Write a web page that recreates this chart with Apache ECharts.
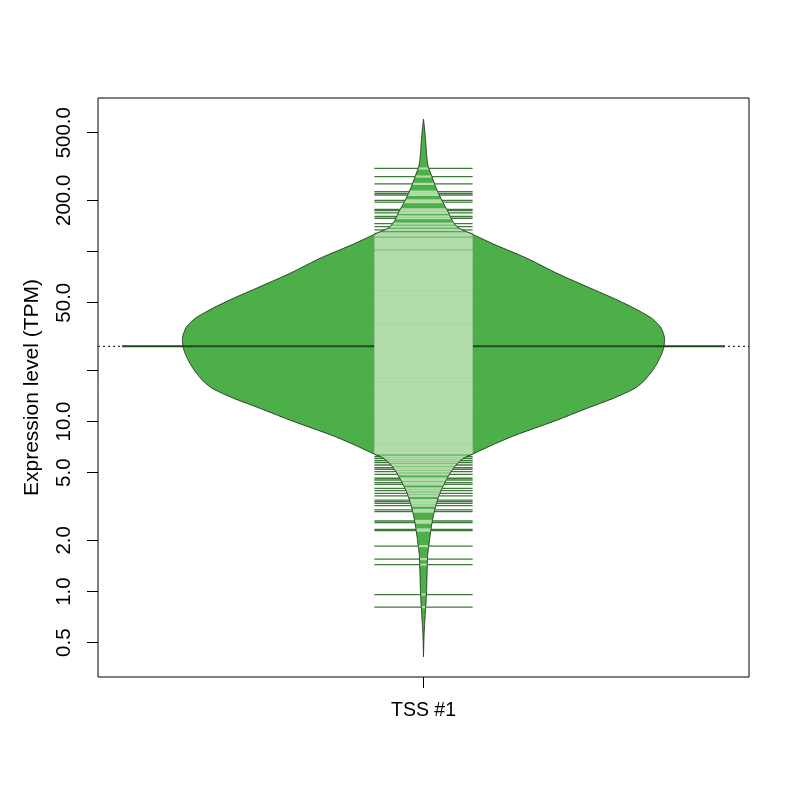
<!DOCTYPE html>
<html><head><meta charset="utf-8">
<script src="https://cdn.jsdelivr.net/npm/echarts@6/dist/echarts.min.js"></script>
<style>html,body{margin:0;padding:0;background:#fff}#chart{width:800px;height:800px}</style>
</head><body><div id="chart"></div>
<script>
// ---- data ----
const categories = ['TSS #1'];
const beanAverage = 27.7; // TPM (geometric mean, bean average line)
// bean density outline: TPM value and relative density (1 = widest)
const beanValues = [0.4136, 0.540, 0.618, 0.778, 0.98, 1.25, 1.60, 2.01, 2.52, 3.155, 3.87, 4.43, 5.31, 6.08, 6.41, 8.03, 10.2, 11.96, 14.0, 16.03, 19.2, 23.0, 27.55, 30.2, 34.5, 39.6, 44.3, 51.9, 62.1, 74.4, 91.2, 110.7, 126.8, 140.0, 175.5, 220, 275.6, 330, 370, 435, 519, 600];
const beanDensity = [0, 0.002, 0.0041, 0.0083, 0.0124, 0.0145, 0.017, 0.025, 0.035, 0.05, 0.071, 0.091, 0.124, 0.166, 0.201, 0.355, 0.554, 0.678, 0.803, 0.886, 0.941, 0.976, 0.997, 1.0, 0.99, 0.955, 0.9, 0.803, 0.678, 0.554, 0.429, 0.29, 0.201, 0.139, 0.098, 0.062, 0.035, 0.017, 0.013, 0.0095, 0.005, 0];
// individual observations (bean lines), TPM
const lowObs = [0.81, 0.96, 1.44, 1.55, 1.85, 2.28, 2.32, 2.54, 2.60, 2.95, 3.02, 3.20, 3.30, 3.38, 3.45, 3.65, 3.78, 3.92, 4.04, 4.27, 4.37, 4.53, 4.64, 4.89, 5.07, 5.24, 5.35, 5.55, 5.74, 5.90, 6.08, 6.23];
const midObs = [6.5, 6.6, 6.7, 6.8, 6.9, 7.0, 7.1, 7.25, 7.4, 7.55, 7.7, 7.85, 8.0, 8.15, 8.3, 8.45, 8.6, 8.8, 8.95, 9.1, 9.3, 9.5, 9.7, 9.9, 10.1, 10.3, 10.5, 10.7, 10.9, 11.1, 11.3, 11.5, 11.75, 12.0, 12.2, 12.45, 12.7, 12.95, 13.2, 13.5, 13.75, 14.0, 14.3, 14.6, 14.9, 15.2, 15.5, 15.8, 16.1, 16.4, 16.7, 17.0, 17.4, 17.7, 18.1, 18.4, 18.8, 19.2, 19.55, 19.9, 20.3, 20.7, 21.1, 21.5, 21.9, 22.3, 22.8, 23.2, 23.7, 24.1, 24.6, 25.1, 25.6, 26.1, 26.6, 27.1, 27.6, 28.2, 28.7, 29.3, 29.8, 30.4, 31.0, 31.6, 32.2, 32.8, 33.5, 34.1, 34.8, 35.5, 36.1, 36.8, 37.6, 38.3, 39.0, 39.8, 40.6, 41.4, 42.2, 43.0, 43.8, 44.7, 45.5, 46.4, 47.3, 48.2, 49.2, 50.1, 51.1, 52.1, 53.1, 54.1, 55.2, 56.2, 57.3, 58.4, 59.6, 60.7, 61.9, 63.1, 64.3, 65.6, 66.8, 68.1, 69.5, 70.8, 71.8, 73.9, 75.0, 76.5, 77.9, 79.5, 81.0, 82.6, 84.2, 85.5, 88.2, 89.2, 90.9, 92.7, 94.5, 96.3, 98.2, 100.2, 103.9, 106, 108, 110, 112, 114.5, 116.8, 119.2, 124.2, 126];
const highObs = [128, 134, 140, 146, 157, 161, 169, 174, 177, 195, 200, 215, 220, 225, 250, 276, 308];
const yTickValues = [0.5, 1, 2, 5, 10, 20, 50, 100, 200, 500];
const yLabelValues = [0.5, 1, 2, 5, 10, 50, 200, 500];
const yRange = [0.3143, 800];

// ---- style ----
const FONT = 'Liberation Sans, Arial, Helvetica, sans-serif';
const beanFill = '#4DAF4A';
const beanBorder = '#24401F';
const innerLine = '#B2DCAA';
const outerLine = '#3D7A3A';
const avgLine = '#1E4A1D';
const beanMaxWidth = 0.8;   // in x units
const lineLength = 0.163;   // in x units

const allObs = lowObs.concat(midObs, highObs);
const lg = Math.log10;

// monotone cubic (Fritsch-Carlson) interpolation of density over log10(value), for a smooth outline
const LX = beanValues.map(lg);
const LY = beanDensity;
const n = LX.length;
const slopes = [];
for (let i = 0; i < n - 1; i++) slopes.push((LY[i + 1] - LY[i]) / (LX[i + 1] - LX[i]));
const tang = new Array(n);
tang[0] = slopes[0]; tang[n - 1] = slopes[n - 2];
for (let i = 1; i < n - 1; i++) {
  if (slopes[i - 1] * slopes[i] <= 0) tang[i] = 0;
  else {
    const h0 = LX[i] - LX[i - 1], h1 = LX[i + 1] - LX[i];
    const w1 = 2 * h1 + h0, w2 = h1 + 2 * h0;
    tang[i] = (w1 + w2) / (w1 / slopes[i - 1] + w2 / slopes[i]);
  }
}
function densityAtLog(x) {
  if (x <= LX[0] || x >= LX[n - 1]) return 0;
  let i = 0;
  while (i < n - 2 && x > LX[i + 1]) i++;
  const h = LX[i + 1] - LX[i], t = (x - LX[i]) / h;
  const t2 = t * t, t3 = t2 * t;
  const d = (2 * t3 - 3 * t2 + 1) * LY[i] + (t3 - 2 * t2 + t) * h * tang[i] + (-2 * t3 + 3 * t2) * LY[i + 1] + (t3 - t2) * h * tang[i + 1];
  return Math.max(0, d);
}

const chart = echarts.init(document.getElementById('chart'), null, {renderer: 'canvas'});
chart.setOption({
  animation: false,
  backgroundColor: '#fff',
  grid: {left: 98, right: 51, top: 98, bottom: 123, show: true, borderColor: '#000', borderWidth: 1, backgroundColor: 'transparent'},
  xAxis: [
    {type: 'value', min: 0.46, max: 1.54, show: false},
    {type: 'category', data: categories, position: 'bottom', boundaryGap: true,
     axisLine: {show: false},
     axisTick: {show: true, alignWithLabel: true, length: 11, lineStyle: {color: '#000', width: 1}},
     axisLabel: {color: '#000', fontFamily: FONT, fontSize: 19.5, margin: 24},
     splitLine: {show: false}}
  ],
  yAxis: {
    type: 'value', min: lg(yRange[0]), max: lg(yRange[1]),
    name: 'Expression level (TPM)', nameLocation: 'middle', nameRotate: 90, nameGap: 55,
    nameTextStyle: {color: '#000', fontFamily: FONT, fontSize: 21},
    axisLine: {show: false},
    splitLine: {show: false},
    axisTick: {show: true, length: 11, customValues: yTickValues.map(lg), lineStyle: {color: '#000', width: 1}},
    axisLabel: {show: true, rotate: 90, margin: 23, color: '#000', fontFamily: FONT, fontSize: 20.5,
      customValues: yLabelValues.map(lg),
      formatter: v => Math.pow(10, v).toFixed(1)}
  },
  series: [{
    type: 'custom',
    xAxisIndex: 0, yAxisIndex: 0,
    clip: true,
    data: [[1, lg(beanAverage)]],
    renderItem: function (params, api) {
      const cs = params.coordSys;
      const cx = api.coord([1, 0])[0];
      const unit = api.size([1, 0])[0];
      const maxHalf = beanMaxWidth / 2 * unit;
      const yOfLog = l => api.coord([1, l])[1];
      const children = [];
      const yAvg = yOfLog(lg(beanAverage));
      // overall dotted line
      children.push({type: 'line', shape: {x1: cs.x, y1: yAvg, x2: cs.x + cs.width, y2: yAvg},
        style: {stroke: '#000', lineWidth: 1, lineDash: [2, 3]}});
      // bean polygon, sampled along the smooth density curve
      const right = [], left = [];
      const steps = 600;
      for (let k = 0; k <= steps; k++) {
        const l = LX[0] + (LX[n - 1] - LX[0]) * k / steps;
        const y = yOfLog(l);
        const hw = densityAtLog(l) * maxHalf;
        right.push([cx + hw, y]);
        left.unshift([cx - hw, y]);
      }
      const pts = right.concat(left);
      children.push({type: 'polygon', shape: {points: pts}, style: {fill: beanFill, stroke: null}});
      // bean average line
      const a0 = api.coord([0.5, 0])[0], a1 = api.coord([1.5, 0])[0];
      children.push({type: 'line', shape: {x1: a0, y1: yAvg, x2: a1, y2: yAvg}, style: {stroke: avgLine, lineWidth: 2}});
      // bean lines: outer colour over the full length, light colour where inside the bean
      const l0 = api.coord([1 - lineLength / 2, 0])[0], l1 = api.coord([1 + lineLength / 2, 0])[0];
      allObs.forEach(v => {
        const y = yOfLog(lg(v));
        children.push({type: 'line', shape: {x1: l0, y1: y, x2: l1, y2: y}, style: {stroke: outerLine, lineWidth: 1.3}});
      });
      allObs.forEach(v => {
        const y = yOfLog(lg(v));
        const hw = densityAtLog(lg(v)) * maxHalf;
        const s0 = Math.max(l0, cx - hw), s1 = Math.min(l1, cx + hw);
        if (s1 > s0) children.push({type: 'line', shape: {x1: s0, y1: y, x2: s1, y2: y}, style: {stroke: innerLine, lineWidth: 2.2}});
      });
      // outline on top
      children.push({type: 'polygon', shape: {points: pts}, style: {fill: null, stroke: beanBorder, lineWidth: 1}});
      return {type: 'group', children: children};
    }
  }]
});
</script>
</body></html>
